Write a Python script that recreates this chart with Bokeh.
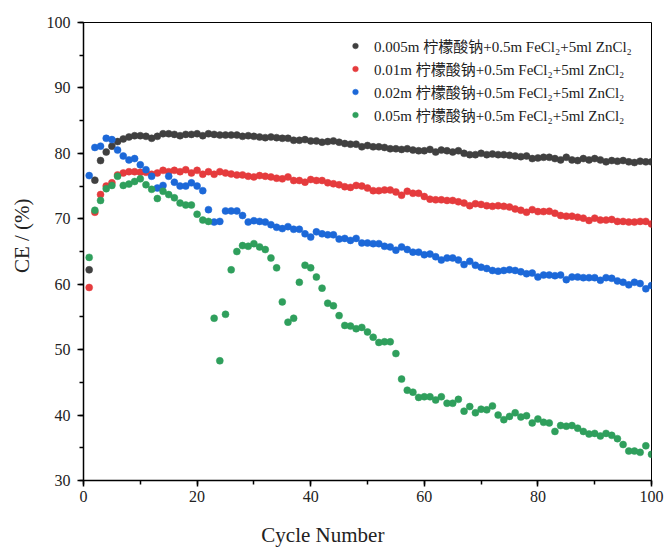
from bokeh.plotting import figure
from bokeh.models import Range1d, SingleIntervalTicker, Legend, LegendItem
from bokeh.embed import file_html
from bokeh.resources import INLINE

cycles = list(range(1, 101))

black = [62.2, 75.9, 78.9, 80.2, 81.1, 81.8, 82.2, 82.5, 82.7, 82.7,
         82.6, 82.3, 82.6, 83.0, 83.0, 82.9, 82.7, 82.9, 82.9, 83.0,
         82.7, 83.0, 82.9, 82.8, 82.8, 82.8, 82.8, 82.6, 82.7, 82.6,
         82.5, 82.4, 82.5, 82.4, 82.3, 82.3, 82.0, 82.0, 82.1, 81.9,
         81.9, 81.7, 81.8, 81.9, 81.7, 81.5, 81.4, 81.4, 81.0, 81.2,
         81.0, 81.0, 80.9, 80.7, 80.7, 80.6, 80.7, 80.5, 80.4, 80.4,
         80.6, 80.2, 80.5, 80.4, 80.2, 80.4, 80.0, 79.8, 79.8, 80.0,
         79.8, 79.9, 79.8, 79.8, 79.7, 79.6, 79.5, 79.6, 79.2, 79.3,
         79.4, 79.4, 79.2, 79.0, 79.4, 79.0, 78.9, 79.2, 79.0, 79.2,
         79.0, 78.7, 78.9, 78.8, 78.9, 78.7, 78.6, 78.8, 78.7, 78.7]

red = [59.5, 71.0, 73.7, 75.0, 75.5, 76.7, 77.0, 77.2, 77.2, 77.1,
       77.1, 76.8, 77.0, 77.4, 77.2, 77.4, 77.2, 77.5, 77.0, 77.4,
       76.8, 77.2, 76.8, 77.2, 77.0, 76.85, 76.7, 76.7, 76.5, 76.4,
       76.6, 76.5, 76.4, 76.2, 76.1, 76.4, 75.85, 75.85, 75.6, 76.0,
       75.85, 75.85, 75.5, 75.35, 75.2, 74.9, 74.8, 75.1, 75.0, 74.7,
       74.3, 74.3, 74.4, 74.4, 74.1, 73.6, 74.2, 73.9, 73.9, 73.4,
       73.0, 72.9, 72.9, 72.8, 72.8, 72.6, 72.4, 72.0, 72.3, 72.2,
       72.0, 71.9, 72.0, 71.9, 71.8, 71.5, 71.3, 71.0, 71.4, 71.1,
       71.1, 71.15, 70.85, 70.5, 70.4, 70.4, 70.24, 70.1, 69.74, 70.1,
       69.8, 69.8, 69.9, 69.6, 69.6, 69.5, 69.5, 69.6, 69.6, 69.2]

blue = [76.6, 80.9, 81.1, 82.3, 82.1, 80.5, 79.6, 79.0, 79.2, 78.25,
        77.5, 76.5, 74.7, 75.1, 76.5, 75.6, 75.0, 75.0, 75.5, 75.0,
        74.3, 71.4, 69.5, 69.6, 71.2, 71.2, 71.2, 70.5, 69.5, 69.7,
        69.6, 69.5, 69.1, 68.7, 68.5, 68.8, 68.4, 68.4, 67.7, 67.2,
        68.0, 67.7, 67.55, 67.55, 66.9, 67.0, 66.7, 67.0, 66.3, 66.3,
        66.2, 66.2, 65.8, 65.7, 65.2, 65.7, 65.3, 64.9, 64.9, 64.5,
        64.6, 64.2, 63.7, 64.0, 64.0, 63.7, 63.0, 63.5, 62.9, 62.6,
        62.4, 62.1, 62.0, 62.1, 62.2, 62.1, 61.9, 61.6, 61.7, 61.1,
        61.4, 61.4, 61.3, 61.4, 60.7, 61.1, 61.1, 61.0, 61.0, 61.0,
        60.6, 61.0, 60.9, 60.5, 60.3, 59.9, 60.3, 60.1, 59.3, 59.8]

green = [64.1, 71.3, 72.8, 74.6, 75.1, 76.5, 75.1, 75.3, 75.7, 76.1,
         75.2, 74.5, 73.1, 74.2, 73.7, 73.2, 72.4, 72.1, 72.1, 70.7,
         69.8, 69.6, 54.8, 48.3, 55.4, 62.2, 65.0, 65.9, 65.8, 66.2,
         65.7, 65.3, 64.0, 62.5, 57.3, 54.2, 54.8, 60.3, 62.9, 62.5,
         61.1, 59.4, 57.1, 56.7, 55.2, 53.7, 53.6, 53.2, 53.4, 52.7,
         51.9, 51.1, 51.2, 51.2, 49.4, 45.5, 43.8, 43.5, 42.7, 42.8,
         42.8, 42.3, 42.8, 41.8, 41.8, 42.4, 40.6, 41.3, 40.35, 40.9,
         40.8, 41.4, 40.0, 39.3, 39.8, 40.35, 39.7, 39.9, 38.8, 39.4,
         38.9, 38.8, 37.5, 38.4, 38.3, 38.4, 38.0, 37.5, 37.1, 37.2,
         36.8, 37.2, 36.9, 36.4, 35.5, 34.5, 34.5, 34.3, 35.3, 34.0]

labels = ["0.005m 柠檬酸钠+0.5m FeCl₂+5ml ZnCl₂",
          "0.01m 柠檬酸钠+0.5m FeCl₂+5ml ZnCl₂",
          "0.02m 柠檬酸钠+0.5m FeCl₂+5ml ZnCl₂",
          "0.05m 柠檬酸钠+0.5m FeCl₂+5ml ZnCl₂"]
colors = ["#404040", "#e53b3d", "#1c68d8", "#2f9f5c"]
series = [black, red, blue, green]

AXFONT = "Liberation Serif"
LEGFONT = "Liberation Serif, Noto Sans CJK SC"
NB = "\u00a0"

p = figure(width=667, height=550, output_backend="svg", toolbar_location=None,
           x_range=Range1d(0, 100), y_range=Range1d(30, 100),
           min_border_left=83, min_border_right=16, min_border_top=22,
           min_border_bottom=70)
p.background_fill_color = "white"
p.border_fill_color = "white"
p.outline_line_color = "black"
p.outline_line_width = 1
p.xgrid.visible = False
p.ygrid.visible = False

items = []
for ys, c, lab in zip(series, colors, labels):
    r = p.scatter(cycles, ys, size=7, fill_color=c, line_color=c, line_width=0.5)
    items.append(LegendItem(label=lab, renderers=[r]))

p.xaxis.ticker = SingleIntervalTicker(interval=20, num_minor_ticks=2)
p.yaxis.ticker = SingleIntervalTicker(interval=10, num_minor_ticks=2)

for ax in (p.xaxis[0], p.yaxis[0]):
    ax.axis_line_width = 1.5
    ax.axis_line_color = "black"
    ax.major_tick_line_color = "black"
    ax.minor_tick_line_color = "black"
    ax.major_tick_line_width = 1.5
    ax.minor_tick_line_width = 1.5
    ax.major_tick_in = 0
    ax.major_tick_out = 6
    ax.minor_tick_in = 0
    ax.minor_tick_out = 4
    ax.major_label_text_font = AXFONT
    ax.major_label_text_font_size = "16px"
    ax.major_label_text_color = "#222222"
    ax.axis_label_text_font = AXFONT
    ax.axis_label_text_font_size = "21px"
    ax.axis_label_text_font_style = "normal"
    ax.axis_label_text_color = "#222222"

p.xaxis.axis_label = "Cycle Number" + NB * 17
p.yaxis.axis_label = NB * 6 + "CE / (%)"
p.xaxis.major_label_standoff = 4
p.yaxis.major_label_standoff = 7
p.xaxis.axis_label_standoff = 18
p.yaxis.axis_label_standoff = 10

legend = Legend(items=items, location=(260, 350))
legend.background_fill_alpha = 0
legend.border_line_alpha = 0
legend.label_text_font = LEGFONT
legend.label_text_font_size = "15px"
legend.label_text_color = "#222222"
legend.glyph_width = 14
legend.glyph_height = 21
legend.label_height = 21
legend.label_standoff = 12
legend.spacing = 2
legend.padding = 5
legend.margin = 0
p.add_layout(legend, "center")

open("out.html", "w").write(file_html(p, INLINE))
